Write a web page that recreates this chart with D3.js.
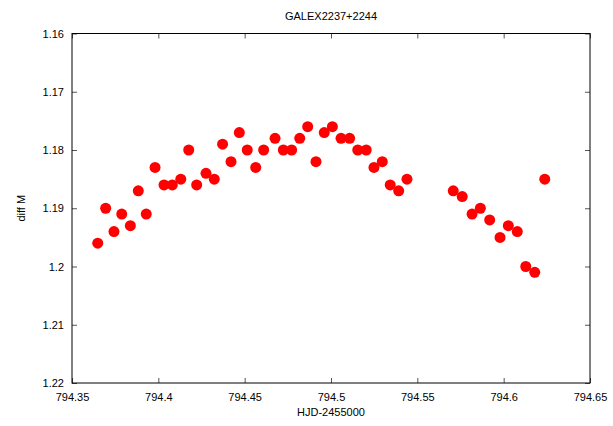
<!DOCTYPE html>
<html>
<head>
<meta charset="utf-8">
<script src="https://cdn.jsdelivr.net/npm/d3@7"></script>
<style>
  body { margin: 0; background: #fff; }
  text { font-family: "Liberation Sans", Arial, sans-serif; font-size: 11px; fill: #000; }
</style>
</head>
<body>
<div id="chart"></div>
<script>
// HJD-2455000 and diff M
var hjd = [794.3649, 794.3695, 794.3743, 794.3788, 794.3838, 794.3884, 794.3930, 794.3981,
  794.4033, 794.4081, 794.4130, 794.4176, 794.4222, 794.4276, 794.4324, 794.4372,
  794.4421, 794.4469, 794.4515, 794.4564, 794.4610, 794.4676, 794.4724, 794.4772,
  794.4819, 794.4865, 794.4913, 794.4961, 794.5008, 794.5058, 794.5108, 794.5155,
  794.5204, 794.5249, 794.5297, 794.5343, 794.5392, 794.5440, 794.5708, 794.5760,
  794.5817, 794.5865, 794.5919, 794.5979, 794.6027, 794.6079, 794.6128, 794.6180,
  794.6238];
var diffM = [1.196, 1.190, 1.194, 1.191, 1.193, 1.187, 1.191, 1.183,
  1.186, 1.186, 1.185, 1.180, 1.186, 1.184, 1.185, 1.179,
  1.182, 1.177, 1.180, 1.183, 1.180, 1.178, 1.180, 1.180,
  1.178, 1.176, 1.182, 1.177, 1.176, 1.178, 1.178, 1.180,
  1.180, 1.183, 1.182, 1.186, 1.187, 1.185, 1.187, 1.188,
  1.191, 1.190, 1.192, 1.195, 1.193, 1.194, 1.200, 1.201,
  1.185];
var xTicks = [794.35, 794.4, 794.45, 794.5, 794.55, 794.6, 794.65];
var yTicks = [1.16, 1.17, 1.18, 1.19, 1.2, 1.21, 1.22];

var data = hjd.map(function(d, i) { return {x: d, y: diffM[i]}; });

var W = 613, H = 426,
    margin = {top: 33.5, right: 23, bottom: 43, left: 72},
    width = W - margin.left - margin.right,
    height = H - margin.top - margin.bottom;

var svg = d3.select("#chart").append("svg")
    .attr("width", W)
    .attr("height", H);
var g = svg.append("g").attr("transform", "translate(" + margin.left + "," + margin.top + ")");

var x = d3.scaleLinear().domain([794.35, 794.65]).range([0, width]);
var y = d3.scaleLinear().domain([1.16, 1.22]).range([0, height]);   // magnitudes, increasing downward

var fmt = function(d) { return String(+d.toFixed(2)); };

// inward ticks on all four sides, gnuplot style
g.append("g")
    .attr("transform", "translate(0," + height + ")")
    .call(d3.axisBottom(x).tickValues(xTicks).tickSize(-5).tickPadding(10).tickFormat(fmt))
  .call(function(a) { a.select(".domain").remove(); a.selectAll("line").attr("stroke", "#555"); });
g.append("g")
    .call(d3.axisTop(x).tickValues(xTicks).tickSize(-5).tickFormat(""))
  .call(function(a) { a.select(".domain").remove(); a.selectAll("line").attr("stroke", "#555"); });
g.append("g")
    .call(d3.axisLeft(y).tickValues(yTicks).tickSize(-5).tickPadding(8).tickFormat(fmt))
  .call(function(a) { a.select(".domain").remove(); a.selectAll("line").attr("stroke", "#555"); });
g.append("g")
    .attr("transform", "translate(" + width + ",0)")
    .call(d3.axisRight(y).tickValues(yTicks).tickSize(-5).tickFormat(""))
  .call(function(a) { a.select(".domain").remove(); a.selectAll("line").attr("stroke", "#555"); });

g.selectAll(".tick text")
    .style("font-family", "'Liberation Sans', Arial, sans-serif")
    .style("font-size", "11px")
    .attr("fill", "#000");

g.append("rect")
    .attr("width", width)
    .attr("height", height)
    .attr("fill", "none")
    .attr("stroke", "#000")
    .attr("stroke-width", 1);

g.selectAll("circle")
    .data(data)
  .enter().append("circle")
    .attr("cx", function(d) { return x(d.x); })
    .attr("cy", function(d) { return y(d.y); })
    .attr("r", 5.5)
    .attr("fill", "#ff0000");

svg.append("text")
    .attr("x", margin.left + width / 2)
    .attr("y", 20)
    .attr("text-anchor", "middle")
    .text("GALEX2237+2244");

svg.append("text")
    .attr("x", margin.left + width / 2)
    .attr("y", 416)
    .attr("text-anchor", "middle")
    .text("HJD-2455000");

svg.append("text")
    .attr("transform", "translate(25," + (margin.top + height / 2) + ") rotate(-90)")
    .attr("text-anchor", "middle")
    .text("diff M");
</script>
</body>
</html>
